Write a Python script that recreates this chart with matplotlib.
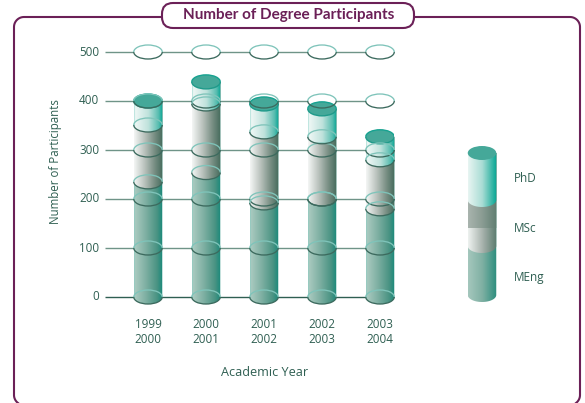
import numpy as np
import matplotlib
matplotlib.use("Agg")
import matplotlib.pyplot as plt
from matplotlib.colors import LinearSegmentedColormap as LSC
from matplotlib.patches import Arc, Ellipse, FancyBboxPatch, PathPatch
from matplotlib.path import Path

years = ["1999\n2000", "2000\n2001", "2001\n2002", "2002\n2003", "2003\n2004"]
meng_top = [235, 254, 192, 200, 180]
msc_top = [351, 394, 337, 327, 280]
phd_top = [400, 439, 394, 384, 327]
y_ticks = [0, 100, 200, 300, 400, 500]
legend_labels = ["PhD", "MSc", "MEng"]

PURPLE = "#6b2057"
GREEN = "#2f5f52"
FONT = "Open Sans"
W, H = 585, 403

fig = plt.figure(figsize=(W / 100, H / 100), dpi=100, facecolor="white")

# page furniture
bg = fig.add_axes([0, 0, 1, 1], zorder=0)
bg.set_xlim(0, W); bg.set_ylim(H, 0); bg.axis("off")
def corner(cx, cy, r, a0, a1):
    t = np.radians(np.linspace(a0, a1, 16))
    return cx + r * np.cos(t), cy + r * np.sin(t)
parts = [corner(24, 395, 10, 127, 180), corner(24, 27, 10, 180, 270),
         corner(570, 27, 10, 270, 360), corner(570, 395, 10, 0, 53)]
bg.plot(np.concatenate([p[0] for p in parts]), np.concatenate([p[1] for p in parts]),
        color=PURPLE, lw=1.5, clip_on=False)
bg.add_patch(FancyBboxPatch((162, 3), 252, 25, boxstyle="round,pad=0,rounding_size=11",
                            fc="white", ec=PURPLE, lw=1.5, zorder=3))
bg.text(289, 15, "Number of Degree Participants", color=PURPLE, family="Lato", weight="bold",
        fontsize=11, ha="center", va="center", zorder=4)
bg.set_xlim(0, W); bg.set_ylim(H, 0)

# chart axes: x index 0 at 148px with 58px spacing, y 0 at 297px with 0.49px per unit
PX_X, PX_Y = 58.0, 0.49
L, R, T, B = 105, 394, 52, 297
ax = fig.add_axes([L / W, 1 - B / H, (R - L) / W, (B - T) / H], zorder=1)
xlim = ((L - 148) / PX_X, (R - 148) / PX_X)
ax.patch.set_visible(False)
for s in ax.spines.values():
    s.set_visible(False)
BW = 28.5 / PX_X
EH = 14 / PX_Y

PHD = LSC.from_list("p", [(0, "#a5dcd4"), (0.04, "#eef7f5"), (0.5, "#bfe2dc"), (0.85, "#58bdb0"), (1, "#03a392")])
MSC = LSC.from_list("m", [(0, "#f4f6f5"), (0.35, "#bcc4bf"), (0.7, "#7a9085"), (1, "#446a5b")])
MEN = LSC.from_list("e", [(0, "#8fcbc1"), (0.04, "#a8c9bf"), (0.4, "#7fb0a3"), (0.8, "#4a9383"), (1, "#17897a")])


def seg_path(x, y0, y1, w=BW, eh=EH):
    """Cylinder slice: rounded bottom, square top at y1."""
    t = np.linspace(np.pi, 2 * np.pi, 40)
    xs = x + w / 2 * np.cos(t)
    ys = y0 + eh / 2 * np.sin(t)
    vx = np.r_[xs, x + w / 2, x - w / 2, xs[0]]
    vy = np.r_[ys, y1, y1, ys[0]]
    return Path(np.c_[vx, vy])


def slice_(a, x, y0, y1, cmap, z, w=BW, eh=EH):
    im = a.imshow(np.linspace(0, 1, 128)[None, :], cmap=cmap, aspect="auto",
                  extent=(x - w / 2, x + w / 2, y0 - eh, y1 + eh), zorder=z, interpolation="bilinear")
    p = PathPatch(seg_path(x, y0, y1, w, eh), fc="none", ec="none", transform=a.transData, clip_on=False)
    a.add_patch(p)
    im.set_clip_path(p)
    im.set_clip_box(fig.bbox)


def rim(a, x, y, z, up="#7fc4ba", lo="#3c6a5e", lw=0.95):
    a.add_patch(Arc((x, y), BW, EH, theta1=0, theta2=180, ec=up, lw=lw, zorder=z, clip_on=False))
    a.add_patch(Arc((x, y), BW, EH, theta1=180, theta2=360, ec=lo, lw=lw, zorder=z, clip_on=False))


for v in y_ticks:
    ax.plot(xlim, [v, v], color="#2f5f52" if v == 0 else "#6f9488", lw=1.0, zorder=1,
            solid_capstyle="butt", clip_on=False)
    for i in range(len(years)):
        ax.add_patch(Ellipse((i, v), BW, EH, fc="white", ec="none", zorder=2, clip_on=False))

for i in range(len(years)):
    slice_(ax, i, 0, phd_top[i], MEN, 3)
    slice_(ax, i, meng_top[i], phd_top[i], MSC, 4)
    slice_(ax, i, msc_top[i], phd_top[i], PHD, 5)
    ax.add_patch(Ellipse((i, phd_top[i]), BW, EH, fc="#45a899", ec="none", zorder=6))
    ax.add_patch(Arc((i, phd_top[i]), BW, EH, theta1=180, theta2=360, ec="#1f9a8a", lw=1.0, zorder=6))
    ax.add_patch(Arc((i, phd_top[i]), BW, EH, theta1=0, theta2=180, ec="#16a290", lw=1.0, zorder=6))
    for v in y_ticks:
        rim(ax, i, v, 7)
    rim(ax, i, meng_top[i], 7)
    rim(ax, i, msc_top[i], 7)

ax.set_xlim(xlim)
ax.set_ylim(0, 500)
ax.set_xticks(range(len(years)))
ax.set_xticklabels(years, family=FONT, fontsize=8.4, color=GREEN, linespacing=1.2)
ax.set_yticks(y_ticks)
ax.set_yticklabels(y_ticks, family=FONT, fontsize=8.4, color=GREEN, va="center")
ax.tick_params(length=0, axis="x", pad=15)
ax.tick_params(length=0, axis="y", pad=4)
bg.text(265, 372, "Academic Year", color=GREEN, family=FONT, fontsize=9.1, ha="center", va="center")
bg.text(56, 162, "Number of Participants", color=GREEN, family=FONT, fontsize=8.3,
        rotation=90, ha="center", va="center")

# legend cylinder, in the same scale as the chart
lx = (482 - 148) / PX_X
lgd_bottom, lgd_m1, lgd_mid, lgd_m2, lgd_top = [(297 - p) / PX_Y for p in (295, 246, 228, 200, 153)]
lax = fig.add_axes(ax.get_position(), zorder=2)
lax.axis("off")
slice_(lax, lx, lgd_bottom, lgd_top, LSC.from_list("le", ["#a5c7bd", "#7fb0a3", "#2b8d7d"]), 3)
slice_(lax, lx, lgd_m1, lgd_top, LSC.from_list("lm", ["#eef2f0", "#a8b3ad", "#5a7a6d"]), 4)
slice_(lax, lx, lgd_mid, lgd_top, LSC.from_list("lg", ["#a9b4ae", "#8a9c93", "#5f7d70"]), 4.5, eh=0.01)
slice_(lax, lx, lgd_m2, lgd_top, LSC.from_list("lp", ["#e8f5f2", "#a8dcd4", "#02a491"]), 5)
lax.add_patch(Ellipse((lx, lgd_top), BW, EH, fc="#45a899", ec="none", zorder=6, clip_on=False))
lax.set_xlim(xlim); lax.set_ylim(0, 500)
for lab, yy in zip(legend_labels, (179, 229, 277)):
    bg.text(514, yy, lab, color=GREEN, family=FONT, fontsize=8.5, ha="left", va="center")

fig.savefig("out.png", dpi=100)
